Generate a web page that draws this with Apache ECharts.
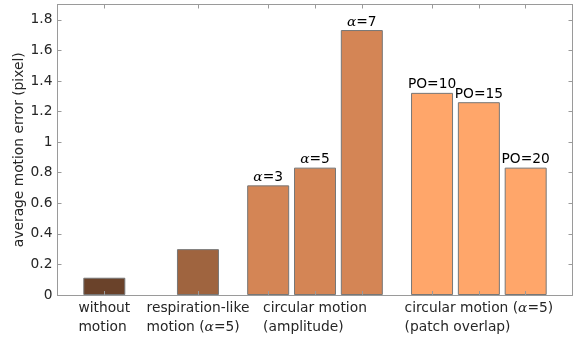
<!DOCTYPE html>
<html>
<head>
<meta charset="utf-8">
<script src="https://cdn.jsdelivr.net/npm/echarts@6/dist/echarts.min.js"></script>
<style>
html, body { margin: 0; padding: 0; background: #fff; }
#chart { width: 573px; height: 340px; }
</style>
</head>
<body>
<div id="chart"></div>
<script>
// bar positions (slot units) and values
var xPos = [0, 2, 3.5, 4.5, 5.5, 7, 8, 9];
var errVals = [0.113, 0.300, 0.717, 0.833, 1.733, 1.322, 1.261, 0.833];
var barTags = ['', '', 'α=3', 'α=5', 'α=7', 'PO=10', 'PO=15', 'PO=20'];
var groupIdx = [0, 1, 2, 2, 2, 3, 3, 3];
var groupCenters = [0, 2, 4.5, 8];
var groupLabels = [
    ['without', 'motion'],
    ['respiration-like', 'motion (α=5)'],
    ['circular motion', '(amplitude)'],
    ['circular motion (α=5)', '(patch overlap)']
];
var yTicks = [0, 0.2, 0.4, 0.6, 0.8, 1, 1.2, 1.4, 1.6, 1.8];

// copper colormap steps
var colorList = ['#6a422a', '#9f643f', '#d48555', '#ffa66a'];
var axisColor = '#9a9a9a';
var textColor = '#262626';
var fontFam = 'DejaVu Sans';
var fs = 13.8;

// wrap alpha into its own rich fragment
function richLine(s, base) {
    var parts = s.split('α');
    var out = '';
    for (var i = 0; i < parts.length; i++) {
        if (parts[i] !== '') out += '{' + base + '|' + parts[i] + '}';
        if (i < parts.length - 1) out += '{' + (base === 'l' ? 'al' : 'a') + '|α}';
    }
    return out;
}

var barData = xPos.map(function (x, i) {
    return {
        value: [x, errVals[i]],
        itemStyle: { color: colorList[groupIdx[i]] }
    };
});

function frameAxis(pos, isX) {
    var ax = {
        type: 'value',
        position: pos,
        z: 5,
        splitLine: { show: false },
        axisLine: { show: true, onZero: false, lineStyle: { color: axisColor, width: 1 } },
        axisTick: { show: true, inside: true, length: 4, customValues: isX ? xPos : yTicks, lineStyle: { color: axisColor } },
        axisLabel: { show: false }
    };
    if (isX) { ax.min = -1; ax.max = 10; } else { ax.min = 0; ax.max = 1.9; }
    return ax;
}

var xBottom = frameAxis('bottom', true);
xBottom.axisLabel = {
    show: true,
    customValues: groupCenters,
    margin: 4,
    color: textColor,
    fontFamily: fontFam,
    fontSize: fs,
    lineHeight: 19,
    formatter: function (v) {
        var k = groupCenters.indexOf(v);
        if (k < 0) return '';
        return groupLabels[k].map(function (s) { return richLine(s, 'l'); }).join('\n');
    },
    rich: {
        l: { align: 'left', color: textColor, fontFamily: fontFam, fontSize: fs, lineHeight: 19 },
        al: { align: 'left', color: textColor, fontFamily: 'DejaVu Serif', fontStyle: 'italic', fontSize: fs, lineHeight: 19 }
    }
};

var yLeft = frameAxis('left', false);
yLeft.name = 'average motion error (pixel)';
yLeft.nameLocation = 'middle';
yLeft.nameGap = 31;
yLeft.nameMoveOverlap = false;
yLeft.nameTextStyle = { color: textColor, fontFamily: fontFam, fontSize: fs };
yLeft.axisLabel = {
    show: true,
    customValues: yTicks,
    margin: 5,
    color: textColor,
    fontFamily: fontFam,
    fontSize: fs
};

var myChart = echarts.init(document.getElementById('chart'));
var option = {
    animation: false,
    grid: { left: 57.5, top: 4.5, right: 0.5, bottom: 45, outerBoundsMode: 'none' },
    xAxis: [xBottom, frameAxis('top', true)],
    yAxis: [yLeft, frameAxis('right', false)],
    series: [
        {
            type: 'bar',
            xAxisIndex: 0,
            yAxisIndex: 0,
            barWidth: 42,
            data: barData,
            itemStyle: { borderColor: '#777', borderWidth: 1 },
            label: {
                show: true,
                position: 'top',
                distance: 1,
                color: '#000',
                fontFamily: fontFam,
                fontSize: fs,
                formatter: function (p) {
                    return richLine(barTags[p.dataIndex], 'b');
                },
                rich: {
                    b: { color: '#000', fontFamily: fontFam, fontSize: fs },
                    a: { color: '#000', fontFamily: 'DejaVu Serif', fontStyle: 'italic', fontSize: fs }
                }
            }
        }
    ]
};
myChart.setOption(option);
window.addEventListener('resize', function () {
    myChart.resize();
});
</script>
</body>
</html>
